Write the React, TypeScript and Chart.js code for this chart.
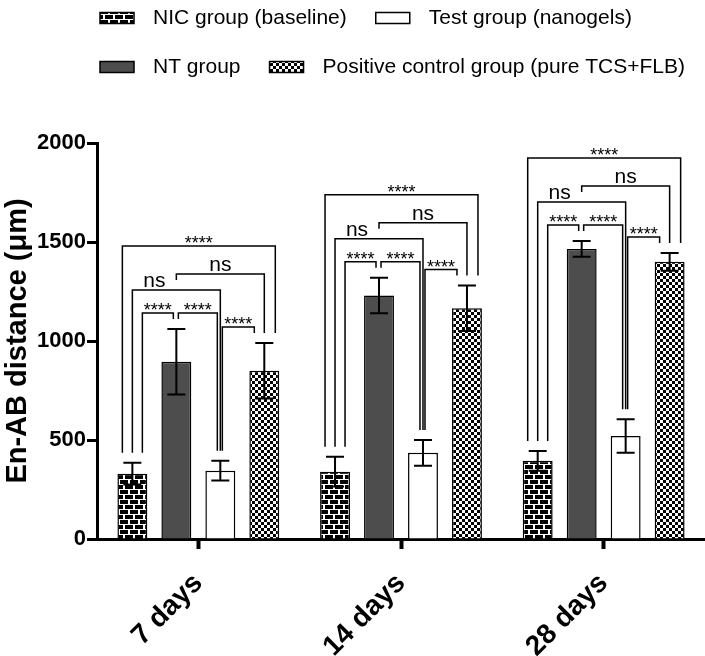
import React, { useEffect, useRef } from 'react';
import { Chart, registerables } from 'chart.js';

Chart.register(...registerables);

const categories = ['7 days', '14 days', '28 days'];
const groupNames = [
  'NIC group (baseline)',
  'NT group',
  'Test group (nanogels)',
  'Positive control group (pure TCS+FLB)',
];
const nicMeans = [330, 340, 395];
const nicErrors = [55, 75, 50];
const ntMeans = [895, 1230, 1465];
const ntErrors = [165, 90, 40];
const testMeans = [345, 435, 520];
const testErrors = [50, 65, 85];
const posMeans = [850, 1165, 1400];
const posErrors = [140, 115, 45];
const yTicks = [0, 500, 1000, 1500, 2000];
// comparisons inside each time point: [from bar, to bar, significance]
const comparisons: [number, number, string][] = [
  [0, 1, '****'],
  [1, 2, '****'],
  [2, 3, '****'],
  [0, 2, 'ns'],
  [1, 3, 'ns'],
  [0, 3, '****'],
];
const legendRows = [[0, 2], [1, 3]];

const means = [nicMeans, ntMeans, testMeans, posMeans];
const errors = [nicErrors, ntErrors, testErrors, posErrors];
const FONT = 'Arial, "Liberation Sans", Helvetica, sans-serif';

function makeBrick(): CanvasPattern | string {
  const c = document.createElement('canvas');
  c.width = 10; c.height = 10;
  const x = c.getContext('2d');
  if (!x) return '#000';
  x.fillStyle = '#fff'; x.fillRect(0, 0, 10, 10);
  x.fillStyle = '#000';
  x.fillRect(0, 0, 8, 4);
  x.fillRect(0, 5, 3, 4);
  x.fillRect(5, 5, 5, 4);
  return x.createPattern(c, 'repeat') || '#000';
}
function makeChecker(): CanvasPattern | string {
  const c = document.createElement('canvas');
  c.width = 6; c.height = 6;
  const x = c.getContext('2d');
  if (!x) return '#888';
  x.fillStyle = '#000'; x.fillRect(0, 0, 6, 6);
  x.fillStyle = '#fff';
  x.fillRect(0, 0, 3, 3);
  x.fillRect(3, 3, 3, 3);
  return x.createPattern(c, 'repeat') || '#888';
}

export default function App() {
  const ref = useRef<HTMLCanvasElement>(null);
  useEffect(() => {
    if (!ref.current) return;
    const fills = [makeBrick(), '#4d4d4d', '#ffffff', makeChecker()];

    const annot = {
      id: 'annot',
      afterDatasetsDraw(chart: any) {
        const ctx = chart.ctx;
        const ys = chart.scales.y;
        const metas = [0, 1, 2, 3].map((i) => chart.getDatasetMeta(i));
        ctx.save();
        ctx.strokeStyle = '#000';
        ctx.lineWidth = 2;
        metas.forEach((m: any, d: number) =>
          m.data.forEach((bar: any, g: number) => {
            const yt = ys.getPixelForValue(means[d][g] + errors[d][g]);
            const yb = ys.getPixelForValue(means[d][g] - errors[d][g]);
            ctx.beginPath();
            ctx.moveTo(bar.x, yt); ctx.lineTo(bar.x, yb);
            ctx.moveTo(bar.x - 9, yt); ctx.lineTo(bar.x + 9, yt);
            ctx.moveTo(bar.x - 9, yb); ctx.lineTo(bar.x + 9, yb);
            ctx.stroke();
          })
        );

        const span1 = comparisons.filter((c) => c[1] - c[0] === 1);
        const sharedBoth = (d: number) =>
          span1.some((c) => c[1] === d) && span1.some((c) => c[0] === d);
        const sorted = comparisons
          .map((c, i) => ({ c, i }))
          .sort((p, q) => (p.c[1] - p.c[0]) - (q.c[1] - q.c[0]) || p.i - q.i)
          .map((p) => p.c);

        for (let g = 0; g < categories.length; g++) {
          const errTop = (d: number) => ys.getPixelForValue(means[d][g] + errors[d][g]);
          const bx = (d: number) => metas[d].data[g].x;
          const legX = (d: number, left: boolean, span: number) => {
            if (span === 1) return bx(d) + (sharedBoth(d) ? (left ? 2 : -3) : (left ? 10 : -10));
            if (span === 2) return bx(d);
            return bx(d) + (left ? -10 : 11);
          };
          const placed: any[] = [];
          for (const [a, b, label] of sorted) {
            const span = b - a;
            const xl = legX(a, true, span);
            const xr = legX(b, false, span);
            const isNs = label === 'ns';
            let ly = Infinity;
            for (let d = a; d <= b; d++) ly = Math.min(ly, errTop(d) - 16);
            for (const p of placed) {
              if (Math.max(p.a, a) < Math.min(p.b, b)) ly = Math.min(ly, p.y - 16);
              if (p.a >= a && p.b <= b) ly = Math.min(ly, p.labelTop - 13);
            }
            placed.push({
              a, b, xl, xr, y: ly, label, isNs,
              labelTop: ly - (isNs ? 15 : 10),
            });
          }
          ctx.lineWidth = 1.5;
          ctx.fillStyle = '#000';
          const legBottom = (p: any, x: number, d: number) => {
            let bot = errTop(d);
            for (const q of placed) {
              if (q !== p && q.y > p.y && q.xl < x && q.xr > x) bot = Math.min(bot, q.y);
            }
            return bot - 10;
          };
          for (const p of placed) {
            ctx.beginPath();
            ctx.moveTo(p.xl, legBottom(p, p.xl, p.a));
            ctx.lineTo(p.xl, p.y);
            ctx.lineTo(p.xr, p.y);
            ctx.lineTo(p.xr, legBottom(p, p.xr, p.b));
            ctx.stroke();
            // label centred in the widest free stretch of the line (legs from above may land on it)
            const cuts = [p.xl, p.xr];
            for (const q of placed) {
              if (q === p || q.y >= p.y) continue;
              for (const [lx, d] of [[q.xl, q.a], [q.xr, q.b]]) {
                if (lx > p.xl && lx < p.xr && legBottom(q, lx, d) + 10 === p.y) cuts.push(lx);
              }
            }
            cuts.sort((m, n) => m - n);
            let best = [p.xl, p.xr];
            let bw = -1;
            for (let k = 0; k < cuts.length - 1; k++) {
              if (cuts[k + 1] - cuts[k] > bw) { bw = cuts[k + 1] - cuts[k]; best = [cuts[k], cuts[k + 1]]; }
            }
            const cx = (best[0] + best[1]) / 2;
            ctx.textAlign = 'center';
            ctx.textBaseline = 'alphabetic';
            if (p.isNs) {
              ctx.font = `21px ${FONT}`;
              ctx.fillText(p.label, cx, p.y - 3);
            } else {
              ctx.font = `18px ${FONT}`;
              ctx.fillText(p.label, cx, p.y + 3);
            }
          }
        }
        ctx.restore();
      },
      afterDraw(chart: any) {
        const ctx = chart.ctx;
        ctx.save();
        ctx.font = `21px ${FONT}`;
        ctx.textBaseline = 'middle';
        ctx.textAlign = 'left';
        const rowY = [18, 67];
        legendRows.forEach((row, r) => {
          let x = 100;
          const yc = rowY[r];
          row.forEach((idx) => {
            ctx.fillStyle = fills[idx] as any;
            ctx.fillRect(x, yc - 5.5, 34, 11);
            ctx.strokeStyle = '#000';
            ctx.lineWidth = 1.5;
            ctx.strokeRect(x, yc - 5.5, 34, 11);
            ctx.fillStyle = '#000';
            ctx.fillText(groupNames[idx], x + 53, yc);
            x = x + 53 + ctx.measureText(groupNames[idx]).width + 29;
          });
        });
        ctx.restore();
      },
    };

    const chart = new Chart(ref.current, {
      type: 'bar',
      data: {
        labels: categories,
        datasets: groupNames.map((name, i) => ({
          label: name,
          data: means[i],
          backgroundColor: fills[i] as any,
          borderColor: '#000',
          borderWidth: 1.5,
          categoryPercentage: 0.868,
          barPercentage: 0.68,
        })),
      },
      options: {
        responsive: false,
        animation: false,
        devicePixelRatio: 1,
        layout: { padding: { top: 143, left: 0, right: 0, bottom: 0 } },
        plugins: { legend: { display: false }, tooltip: { enabled: false } },
        scales: {
          x: {
            grid: {
              display: true, offset: false, drawOnChartArea: false, drawTicks: true,
              tickLength: 10, tickWidth: 4, tickColor: '#000',
            },
            border: { display: true, width: 3, color: '#000' },
            ticks: {
              font: { size: 28, weight: 'bold', family: FONT },
              color: '#000', maxRotation: 45, minRotation: 45, padding: 18,
            },
            afterFit: (s: any) => { s.height = 117; },
          },
          y: {
            min: 0, max: 2000,
            afterBuildTicks: (s: any) => { s.ticks = yTicks.map((v) => ({ value: v })); },
            grid: {
              display: true, drawOnChartArea: false, drawTicks: true,
              tickLength: 10, tickWidth: 3, tickColor: '#000',
            },
            border: { display: true, width: 3, color: '#000' },
            ticks: {
              font: { size: 22, weight: 'bold', family: FONT }, color: '#000', padding: 1,
              callback: (v: any) => String(v),
            },
            title: {
              display: true, text: 'En-AB distance (μm)', color: '#000',
              font: { size: 29, weight: 'bold', family: FONT }, padding: { top: 1, bottom: 0 },
            },
            afterFit: (s: any) => { s.width = 97; },
          },
        },
      },
      plugins: [annot],
    } as any);
    return () => chart.destroy();
  }, []);
  return (
    <div style={{ position: 'absolute', left: 0, top: 0, width: 705, height: 656, background: '#fff' }}>
      <canvas ref={ref} width={705} height={656} />
    </div>
  );
}
